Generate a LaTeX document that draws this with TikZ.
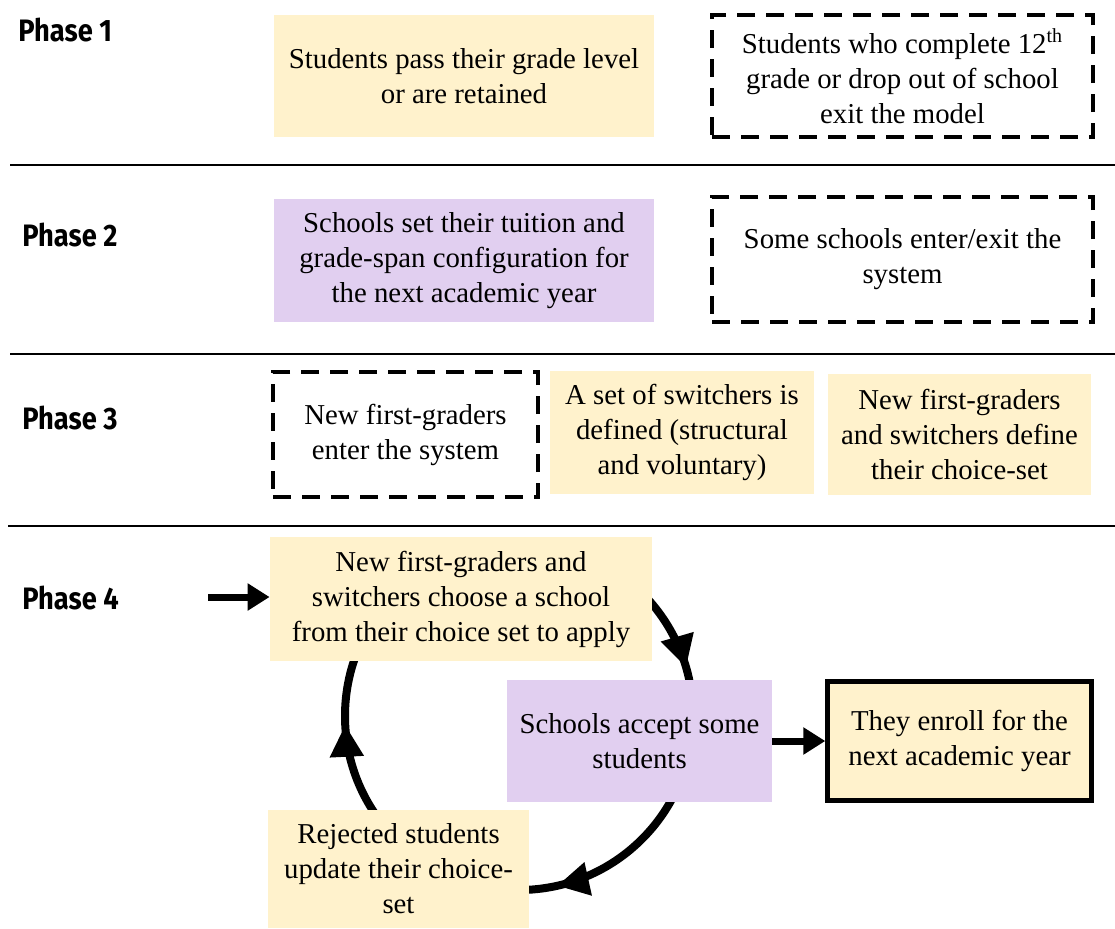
\documentclass[tikz,border=0pt]{standalone}
\usepackage{fontspec}
\setmainfont{Liberation Serif}
\newfontfamily\phasefont[FakeStretch=0.88]{Fira Sans}
\usetikzlibrary{arrows.meta,decorations.markings,backgrounds}
\definecolor{cream}{HTML}{FFF2CC}
\definecolor{lav}{HTML}{E1CFF0}
\tikzset{
  box/.style={rectangle, inner sep=0pt, align=center, font=\fontsize{14.4pt}{17.5pt}\selectfont},
  ybox/.style={box, fill=cream},
  pbox/.style={box, fill=lav},
  dbox/.style={box, draw=black, line width=2pt, dash pattern=on 9pt off 5.5pt},
  ebox/.style={box, fill=cream, draw=black, line width=2.2pt},
  phase/.style={anchor=west, inner sep=0pt, font=\phasefont\bfseries\fontsize{15.5pt}{18pt}\selectfont},
  sep/.style={line width=0.75pt},
  bigarrow/.style={line width=3.5pt, -{Triangle[length=11pt,width=13pt]}},
  cyctip/.tip={Triangle[length=16pt,width=16pt]},
}
\begin{document}
\begin{tikzpicture}[x=0.5pt,y=0.5pt]
\useasboundingbox (0,0) rectangle (1115,-928);
% phase labels
\node[phase] (p1) at (18,-30) {Phase 1};
\node[phase] (p2) at (22,-235) {Phase 2};
\node[phase] (p3) at (22,-418) {Phase 3};
\node[phase] (p4) at (22,-598) {Phase 4};
% separators
\draw[sep] (10,-165) -- (1115,-165);
\draw[sep] (10,-354) -- (1115,-354);
\draw[sep] (8,-526) -- (1115,-526);
% phase 1
\node[ybox, minimum width=190pt, minimum height=61pt] (a1) at (464,-76) {Students pass their grade level\\or are retained};
\node[dbox, minimum width=190.5pt, minimum height=61pt] (a2) at (902.5,-76) {Students who complete 12\textsuperscript{th}\\grade or drop out of school\\exit the model};
% phase 2
\node[pbox, minimum width=190pt, minimum height=61.5pt] (b1) at (464,-260.5) {Schools set their tuition and\\grade-span configuration for\\the next academic year};
\node[dbox, minimum width=190.5pt, minimum height=62.5pt] (b2) at (902.5,-259.5) {Some schools enter/exit the\\system};
% phase 3
\node[dbox, minimum width=132.5pt, minimum height=62.5pt] (c1) at (405.5,-434.5) {New first-graders\\enter the system};
\node[ybox, minimum width=132pt, minimum height=61.5pt] (c2) at (682,-432.5) {A set of switchers is\\defined (structural\\and voluntary)};
\node[ybox, minimum width=131.5pt, minimum height=60.5pt] (c3) at (959.5,-434.5) {New first-graders\\and switchers define\\their choice-set};
% phase 4
\node[ybox, minimum width=191pt, minimum height=62pt] (top) at (461,-599) {New first-graders and\\switchers choose a school\\from their choice set to apply};
\node[pbox, minimum width=132.5pt, minimum height=61pt] (acc) at (639.5,-741) {Schools accept some\\students};
\node[ebox, minimum width=132pt, minimum height=59.5pt] (enr) at (959.5,-741) {They enroll for the\\next academic year};
\node[ybox, minimum width=130.5pt, minimum height=59pt] (rej) at (398.5,-869) {Rejected students\\update their choice-\\set};
% cycle
\coordinate (cyc) at (519,-716);
\begin{scope}[on background layer]
\draw[line width=4pt, postaction=decorate, decoration={markings,
  mark=at position 0.205 with {\arrow{cyctip}},
  mark=at position 0.465 with {\arrow{cyctip}},
  mark=at position 0.742 with {\arrow{cyctip}}}]
  (cyc) ++(90:174) arc[start angle=90, end angle=-270, radius=174];
\end{scope}
% arrows
\coordinate (in) at (208,-597);
\draw[bigarrow] (in) -- (in -| top.west);
\draw[bigarrow] (acc) -- (enr);
\end{tikzpicture}
\end{document}
